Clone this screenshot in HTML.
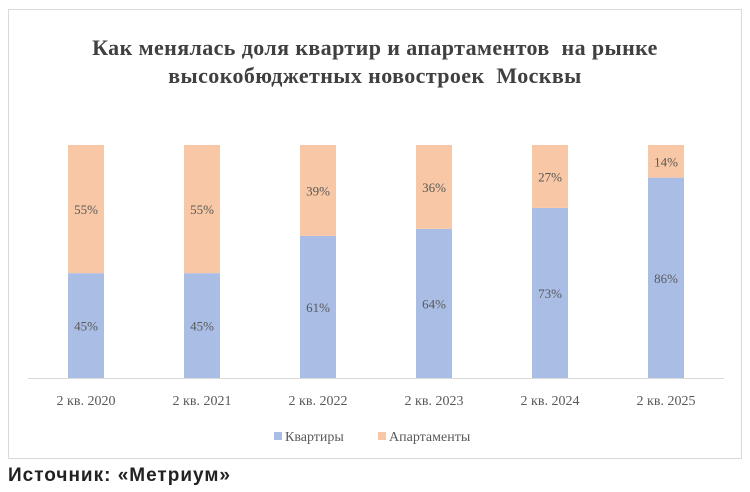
<!DOCTYPE html>
<html><head><meta charset="utf-8"><style>
body{margin:0;width:750px;height:492px;background:#fff;overflow:hidden;font-family:"Liberation Serif",serif;}
#frame{position:absolute;left:8px;top:9px;width:734px;height:450px;border:1px solid #d9d9d9;box-sizing:border-box;}
#title{position:absolute;left:0;width:750px;top:34px;text-align:center;font-weight:bold;font-size:22px;letter-spacing:0.4px;line-height:28px;color:#404040;}
#src{position:absolute;left:8px;top:465px;font-family:"Liberation Sans",sans-serif;font-weight:bold;font-size:19px;letter-spacing:1px;color:#222;}
svg{position:absolute;left:0;top:0;}
</style></head><body>
<div id="frame"></div>
<div id="title">Как менялась доля квартир и апартаментов&nbsp; на рынке<br>высокобюджетных новостроек&nbsp; Москвы</div>
<svg id="chart" width="750" height="492"></svg>
<div id="src">Источник: «Метриум»</div>
<script>
const categories=["2 кв. 2020","2 кв. 2021","2 кв. 2022","2 кв. 2023","2 кв. 2024","2 кв. 2025"];
const flats=[45,45,61,64,73,86];
const apartments=[55,55,39,36,27,14];
const NS="http://www.w3.org/2000/svg";
const svg=document.getElementById('chart');
const y0=378,plotH=233,x0=28,step=116,barW=36;
const xC=i=>x0+step*(i+0.5);
const yS=v=>v/100*plotH;
function mk(t,a){const e=document.createElementNS(NS,t);for(const k in a)e.setAttribute(k,a[k]);svg.appendChild(e);return e;}
const ax=mk('line',{x1:x0,x2:x0+step*6,y1:y0+0.5,y2:y0+0.5,stroke:'#d9d9d9','stroke-width':1});


categories.forEach((c,i)=>{
  const hb=yS(flats[i]),ho=yS(apartments[i]);
  const b=mk('rect',{x:xC(i)-barW/2,y:y0-hb,width:barW,height:hb,fill:'#a9bde5'});
  
  
  const o=mk('rect',{x:xC(i)-barW/2,y:y0-hb-ho,width:barW,height:ho,fill:'#f8c7a5'});
  
  
  const t1=mk('text',{x:xC(i),y:y0-hb/2+5,'text-anchor':'middle','font-size':13,fill:'#595959'});t1.textContent=flats[i]+'%';
  
  
  const t2=mk('text',{x:xC(i),y:y0-hb-ho/2+5,'text-anchor':'middle','font-size':13,fill:'#595959'});t2.textContent=apartments[i]+'%';
  
  
  const xl=mk('text',{x:xC(i),y:405,'text-anchor':'middle','font-size':14,fill:'#595959'});xl.textContent=c;
  
  
});
const l1=mk('rect',{x:274,y:432,width:8,height:8,fill:'#a9bde5'});


const lt1=mk('text',{x:285,y:441,'font-size':14,fill:'#595959'});lt1.textContent='Квартиры';


const l2=mk('rect',{x:378,y:432,width:8,height:8,fill:'#f8c7a5'});


const lt2=mk('text',{x:389,y:441,'font-size':14,fill:'#595959'});lt2.textContent='Апартаменты';


</script>
</body></html>
